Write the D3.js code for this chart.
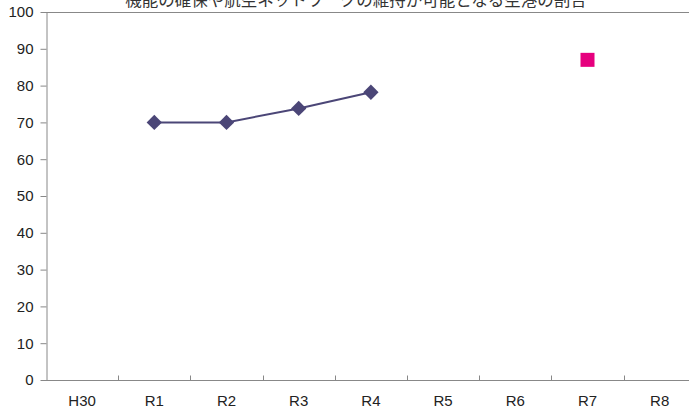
<!DOCTYPE html>
<html>
<head>
<meta charset="utf-8">
<script src="https://cdn.jsdelivr.net/npm/d3@7"></script>
<style>
  body { margin: 0; background: #fff; }
  text { font-family: "Liberation Sans", Arial, sans-serif; fill: #222; }
</style>
</head>
<body>
<div id="chart"></div>
<script>
// 年度ラベル
var years = ["H30", "R1", "R2", "R3", "R4", "R5", "R6", "R7", "R8"];
// 実績値
var actualYears = ["R1", "R2", "R3", "R4"];
var actualValues = [70, 70, 73.8, 78.2];
// 目標値
var targetYears = ["R7"];
var targetValues = [87];
var yTicks = [0, 10, 20, 30, 40, 50, 60, 70, 80, 90, 100];
var title = "機能の確保や航空ネットワークの維持が可能となる空港の割合";

var width = 689, height = 407;
var margin = {top: 12, left: 46, bottom: 27};

var svg = d3.select("#chart").append("svg")
    .attr("width", width)
    .attr("height", height);

var x = d3.scaleBand()
    .domain(years)
    .range([margin.left, margin.left + 72.2 * years.length]);

var y = d3.scaleLinear()
    .domain([0, 100])
    .range([height - margin.bottom, margin.top]);

// title (cut off at top, like the source)
svg.append("text")
    .attr("x", 356)
    .attr("y", 6)
    .attr("text-anchor", "middle")
    .style("font-family", "'Noto Sans CJK JP', sans-serif")
    .style("font-size", "16.5px")
    .style("fill", "#333")
    .text(title);

// frame top line
svg.append("line")
    .attr("x1", margin.left).attr("x2", width)
    .attr("y1", y(100) + 0.5).attr("y2", y(100) + 0.5)
    .style("stroke", "#888");

// y axis
var yAxis = svg.append("g")
    .attr("transform", "translate(" + (margin.left + 0.5) + ",0)")
    .call(d3.axisLeft(y).tickValues(yTicks).tickSize(6).tickPadding(7).tickSizeOuter(0));
yAxis.select(".domain").style("stroke", "#888");
yAxis.selectAll(".tick line").style("stroke", "#888");
yAxis.selectAll(".tick text")
    .style("font-size", "15px")
    .style("font-family", "'Liberation Sans', Arial, sans-serif")
    .style("fill", "#222");

// x axis
var xg = svg.append("g")
    .attr("transform", "translate(0," + (y(0) + 0.5) + ")");
xg.append("line")
    .attr("x1", margin.left).attr("x2", width)
    .style("stroke", "#888");
xg.selectAll(".sep")
    .data(years.slice(1))
    .enter().append("line")
    .attr("x1", function(d) { return Math.round(x(d)) + 0.5; })
    .attr("x2", function(d) { return Math.round(x(d)) + 0.5; })
    .attr("y1", 0).attr("y2", -5)
    .style("stroke", "#888");
xg.selectAll(".lbl")
    .data(years)
    .enter().append("text")
    .attr("x", function(d) { return x(d) + x.bandwidth() / 2; })
    .attr("y", 25)
    .attr("text-anchor", "middle")
    .style("font-size", "15px")
    .text(function(d) { return d; });

// actual line
var pts = actualYears.map(function(d, i) { return [d, actualValues[i]]; });
var line = d3.line()
    .x(function(d) { return x(d[0]) + x.bandwidth() / 2; })
    .y(function(d) { return y(d[1]); });
svg.append("path")
    .datum(pts)
    .attr("d", line)
    .style("fill", "none")
    .style("stroke", "#4b4677")
    .style("stroke-width", 2);

svg.selectAll(".dia")
    .data(pts)
    .enter().append("path")
    .attr("d", d3.symbol().type(d3.symbolDiamond2).size(150))
    .attr("transform", function(d) {
        return "translate(" + (x(d[0]) + x.bandwidth() / 2) + "," + y(d[1]) + ")";
    })
    .style("fill", "#4b4677");

// target
svg.selectAll(".tgt")
    .data(targetYears.map(function(d, i) { return [d, targetValues[i]]; }))
    .enter().append("rect")
    .attr("x", function(d) { return x(d[0]) + x.bandwidth() / 2 - 7; })
    .attr("y", function(d) { return y(d[1]) - 7; })
    .attr("width", 14)
    .attr("height", 14)
    .style("fill", "#e6007e");
</script>
</body>
</html>
